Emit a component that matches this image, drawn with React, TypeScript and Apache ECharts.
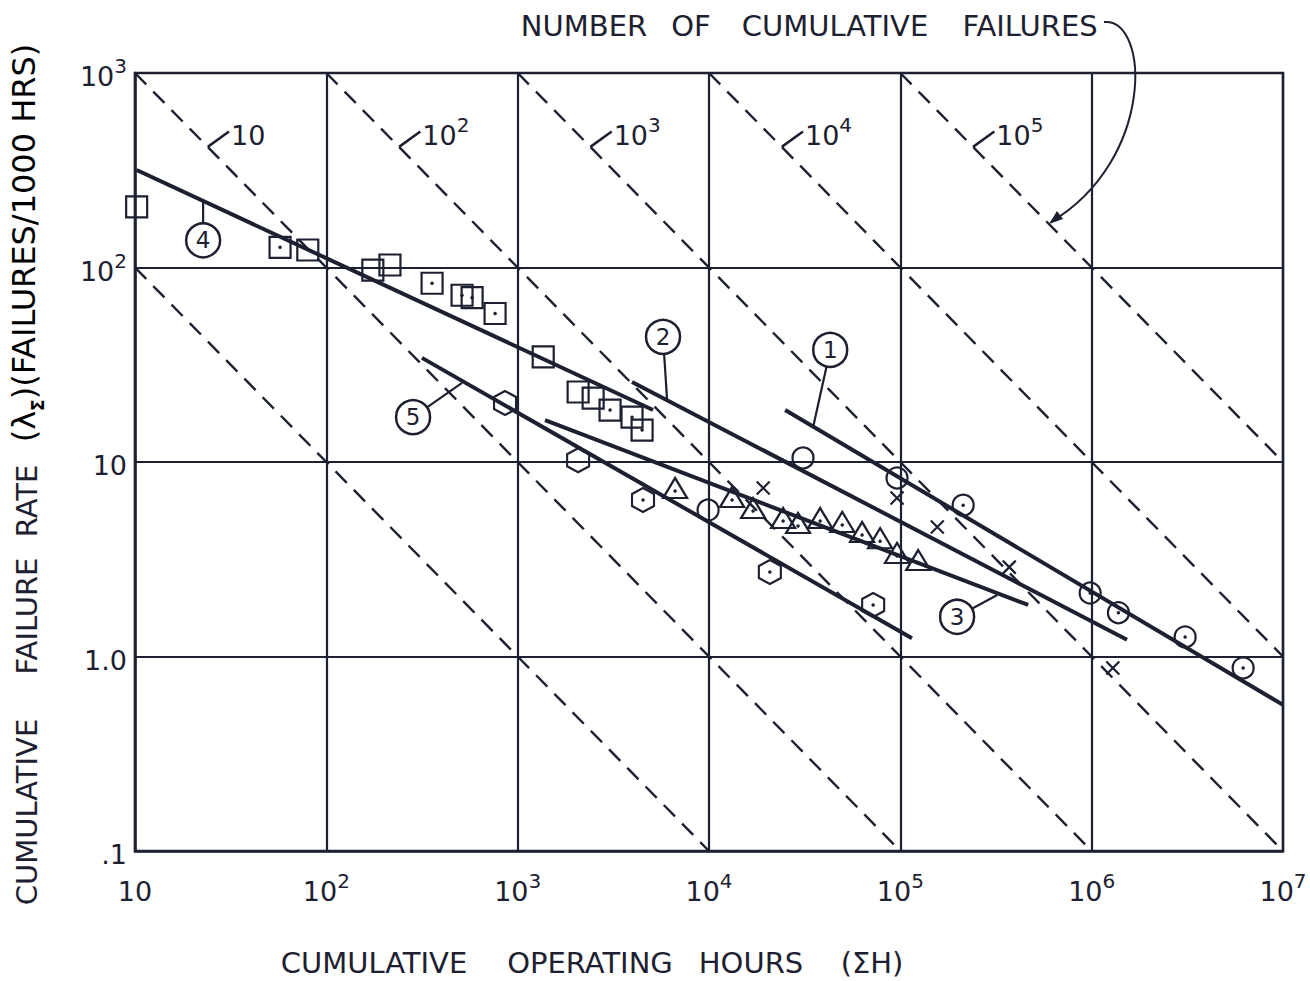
import React, { useEffect, useRef } from "react";
import * as echarts from "echarts";

// ---------- data ----------
const xTickLabels = ["10", "10^2", "10^3", "10^4", "10^5", "10^6", "10^7"];
const yTickLabels = [".1", "1.0", "10", "10^2", "10^3"];

// constant "number of cumulative failures" lines: rate = 1000 * N / H
const cumulativeFailureCounts = [1, 10, 100, 1000, 10000, 100000];
const dashLabelText = ["10", "10^2", "10^3", "10^4", "10^5"];
const dashLabelAnchor = [[24, 417], [240, 417], [2400, 417], [24000, 417], [240000, 417]];
const dashLabelEnd = [[31, 500], [310, 500], [3100, 500], [31000, 500], [310000, 500]];

// fitted lines (start, end)
const fitLine1 = [[25000, 18.5], [1e7, 0.564]];
const fitLine2 = [[3960, 25.8], [1.53e6, 1.22]];
const fitLine3 = [[1390, 16.4], [466000, 1.84]];
const fitLine4 = [[10.2, 317], [5100, 18.5]];
const fitLine5 = [[316, 34.3], [115000, 1.24]];

// numbered bubbles
const bubbleLabels = ["1", "2", "3", "4", "5"];
const bubbleCenters = [[43000, 37.7], [5750, 44], [198000, 1.6], [22.7, 138], [284, 17]];
const bubbleAnchors = [[35000, 15.1], [6040, 20.8], [321000, 2.07], [22.7, 220], [512, 25.5]];

// data points
const squareHours = [10.2, 57.3, 80, 175, 215, 357, 512, 578, 762, 1360, 2070, 2480, 3040, 3960, 4470];
const squareRate = [205, 127, 123, 97, 103, 83, 72, 70, 58, 34.7, 22.9, 21.3, 18.5, 17.0, 14.6];
const squareDot = [0, 1, 0, 0, 0, 1, 1, 1, 1, 0, 0, 0, 1, 1, 1];

const hexHours = [859, 2070, 4520, 20800, 72100];
const hexRate = [20.1, 10.2, 6.38, 2.72, 1.84];
const hexDot = [0, 0, 1, 1, 1];

const circleHours = [9890, 31000, 96100, 213000, 982000, 1.38e6, 3.08e6, 6.19e6];
const circleRate = [5.66, 10.5, 8.28, 6.0, 2.12, 1.68, 1.26, 0.873];
const circleDot = [0, 0, 0, 1, 1, 1, 1, 1];

const triangleHours = [6650, 13200, 17000, 24400, 29200, 38100, 49700, 63100, 78400, 96100, 124000];
const triangleRate = [7.35, 6.61, 5.8, 5.15, 4.86, 5.15, 4.92, 4.37, 4.06, 3.41, 3.13];

const crossHours = [19200, 96100, 156000, 371000, 1.29e6];
const crossRate = [7.35, 6.53, 4.63, 2.88, 0.873];

// ---------- style ----------
const INK = "#1d2030";
const FONT = '"DejaVu Sans", sans-serif';

const supRich: any = {
  b: { fontSize: 27, fontFamily: FONT, color: INK, lineHeight: 34, verticalAlign: "bottom" },
  s: { fontSize: 20, fontFamily: FONT, color: INK, lineHeight: 34, verticalAlign: "top" },
};
const toRich = (label: string) => {
  const [b, e] = label.split("^");
  return e ? `{b|${b}}{s|${e}}` : `{b|${b}}`;
};

const zip = (xs: number[], ys: number[]) => xs.map((x, i) => [x, ys[i]]);
const pick = (xs: number[], ys: number[], flags: number[]) =>
  xs.map((x, i) => [x, ys[i]]).filter((_, i) => flags[i]);

const markerItem = { color: "transparent", borderColor: INK, borderWidth: 2.2, opacity: 1 };
const HEX = "path://M0 -10 L8.66 -5 L8.66 5 L0 10 L-8.66 5 L-8.66 -5 Z";
const CROSS = "path://M0 0 L10 10 M10 0 L0 10";

function buildOption() {
  const series: any[] = [];

  cumulativeFailureCounts.forEach((n) => {
    const h0 = Math.max(10, n);
    const h1 = Math.min(1e7, n * 1e4);
    series.push({
      type: "line",
      data: [[h0, (1000 * n) / h0], [h1, (1000 * n) / h1]],
      showSymbol: false,
      silent: true,
      z: 2,
      lineStyle: { color: INK, width: 2.4, type: [16, 10] },
    });
  });

  dashLabelAnchor.forEach((a, i) => {
    series.push({
      type: "line",
      data: [a, dashLabelEnd[i]],
      showSymbol: false,
      z: 3,
      lineStyle: { color: INK, width: 2.5 },
    });
  });

  series.push({
    type: "scatter",
    data: dashLabelEnd,
    symbolSize: 0,
    z: 6,
    itemStyle: { opacity: 1 },
    label: {
      show: true,
      position: "right",
      distance: 2,
      formatter: (p: any) => toRich(dashLabelText[p.dataIndex]),
      rich: supRich,
    },
  });

  [fitLine1, fitLine2, fitLine3, fitLine4, fitLine5].forEach((l) => {
    series.push({
      type: "line",
      data: l,
      showSymbol: false,
      z: 3,
      lineStyle: { color: INK, width: 4 },
    });
  });

  bubbleCenters.forEach((c, i) => {
    series.push({
      type: "line",
      data: [c, bubbleAnchors[i]],
      showSymbol: false,
      z: 3,
      lineStyle: { color: INK, width: 2.2 },
    });
  });

  // markers
  series.push({ type: "scatter", data: zip(squareHours, squareRate), symbol: "rect", symbolSize: 21, z: 4, itemStyle: markerItem });
  series.push({ type: "scatter", data: zip(hexHours, hexRate), symbol: HEX, symbolSize: [22, 24], z: 4, itemStyle: markerItem });
  series.push({ type: "scatter", data: zip(circleHours, circleRate), symbol: "circle", symbolSize: 21, z: 4, itemStyle: markerItem });
  series.push({ type: "scatter", data: zip(triangleHours, triangleRate), symbol: "triangle", symbolSize: [24, 20], z: 4, itemStyle: markerItem });
  series.push({ type: "scatter", data: zip(crossHours, crossRate), symbol: CROSS, symbolSize: 13, z: 4, itemStyle: markerItem });

  const dots = [
    ...pick(squareHours, squareRate, squareDot),
    ...pick(hexHours, hexRate, hexDot),
    ...pick(circleHours, circleRate, circleDot),
  ];
  series.push({ type: "scatter", data: dots, symbol: "circle", symbolSize: 3.5, z: 5, itemStyle: { color: INK, opacity: 1 } });
  series.push({ type: "scatter", data: zip(triangleHours, triangleRate), symbol: "circle", symbolSize: 3.5, symbolOffset: [0, 3], z: 5, itemStyle: { color: INK, opacity: 1 } });

  series.push({
    type: "scatter",
    data: bubbleCenters,
    symbol: "circle",
    symbolSize: 34,
    z: 6,
    itemStyle: { color: "#fff", borderColor: INK, borderWidth: 2.5, opacity: 1 },
    label: {
      show: true,
      position: "inside",
      formatter: (p: any) => bubbleLabels[p.dataIndex],
      fontSize: 23,
      fontFamily: FONT,
      color: INK,
    },
  });

  const wordStyle = { fontSize: 29, fontFamily: FONT, fill: INK, align: "center", verticalAlign: "middle" };
  const word = (text: string, x: number, y: number, rot = 0) => ({
    type: "text",
    x,
    y,
    rotation: rot,
    style: { ...wordStyle, text },
  });

  const graphic: any[] = [
    word("NUMBER", 584, 26),
    word("OF", 691, 26),
    word("CUMULATIVE", 835, 26),
    word("FAILURES", 1030, 26),
    word("CUMULATIVE", 374, 963),
    word("OPERATING", 590, 963),
    word("HOURS", 751, 963),
    word("(ΣH)", 872, 963),
    word("CUMULATIVE", 27, 812, Math.PI / 2),
    word("FAILURE", 27, 616, Math.PI / 2),
    word("RATE", 27, 501, Math.PI / 2),
    {
      type: "text",
      x: 27,
      y: 243,
      rotation: Math.PI / 2,
      style: {
        text: "{a|(λ}{s|Σ}{a|)(FAILURES/1000 HRS)}",
        align: "center",
        verticalAlign: "middle",
        rich: {
          a: { fontSize: 32, fontFamily: FONT, color: INK, lineHeight: 38, verticalAlign: "top" },
          s: { fontSize: 17, fontFamily: FONT, color: INK, lineHeight: 38, verticalAlign: "bottom", fontWeight: "bold" },
        },
      },
    },
    {
      type: "bezierCurve",
      shape: { x1: 1104, y1: 22, x2: 1051, y2: 222, cpx1: 1150, cpy1: 18, cpx2: 1155, cpy2: 160 },
      style: { stroke: INK, lineWidth: 2, fill: "none" },
    },
    {
      type: "polygon",
      shape: { points: [[1049, 224], [1063, 219], [1057, 211]] },
      style: { fill: INK },
    },
  ];

  return {
    animation: false,
    backgroundColor: "#ffffff",
    grid: { left: 135, right: 27, top: 73, bottom: 130, show: true, borderColor: INK, borderWidth: 2.5 },
    xAxis: {
      type: "log",
      logBase: 10,
      min: 10,
      max: 1e7,
      axisLine: { show: true, lineStyle: { color: INK, width: 2.5 } },
      axisTick: { show: false },
      minorTick: { show: false },
      splitLine: { show: true, lineStyle: { color: INK, width: 2.2, type: "solid" } },
      axisLabel: {
        margin: 20,
        interval: 0,
        showMinLabel: true,
        showMaxLabel: true,
        hideOverlap: false,
        formatter: (v: number) => toRich(xTickLabels[Math.round(Math.log10(v)) - 1] || ""),
        rich: supRich,
      },
    },
    yAxis: {
      type: "log",
      logBase: 10,
      min: 0.1,
      max: 1000,
      axisLine: { show: true, lineStyle: { color: INK, width: 2.5 } },
      axisTick: { show: false },
      minorTick: { show: false },
      splitLine: { show: true, lineStyle: { color: INK, width: 2.2, type: "solid" } },
      axisLabel: {
        margin: 8,
        showMinLabel: true,
        showMaxLabel: true,
        hideOverlap: false,
        formatter: (v: number) => toRich(yTickLabels[Math.round(Math.log10(v)) + 1] || ""),
        rich: supRich,
      },
    },
    series,
    graphic,
  };
}

export default function App() {
  const ref = useRef<HTMLDivElement>(null);
  useEffect(() => {
    const chart = echarts.init(ref.current!, undefined, { renderer: "svg" });
    chart.setOption(buildOption() as any);
    return () => chart.dispose();
  }, []);
  return (
    <div
      ref={ref}
      style={{ position: "fixed", left: 0, top: 0, width: 1310, height: 981, background: "#fff" }}
    />
  );
}
